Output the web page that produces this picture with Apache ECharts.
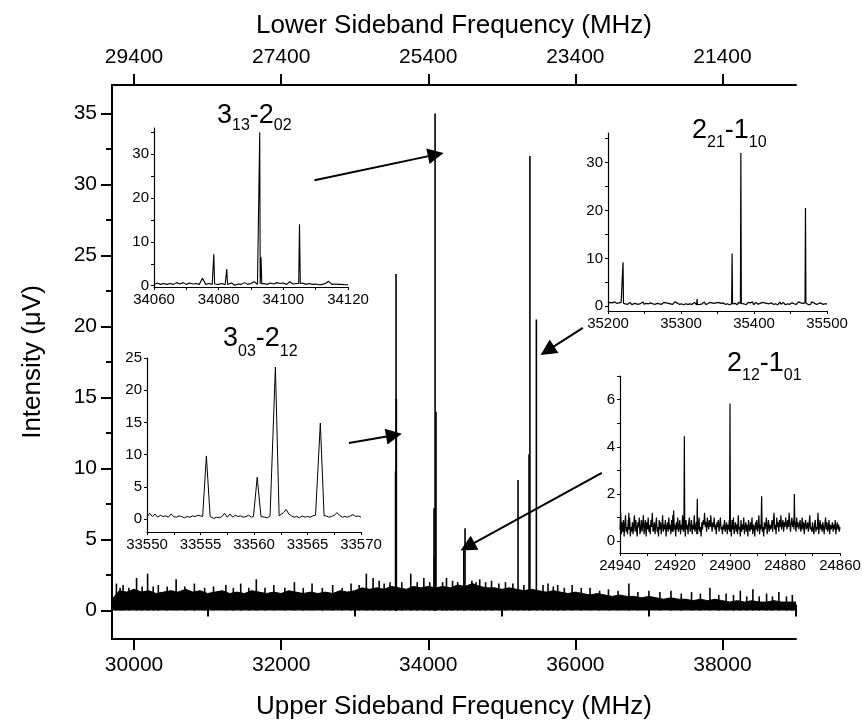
<!DOCTYPE html>
<html><head><meta charset="utf-8">
<script src="https://cdn.jsdelivr.net/npm/echarts@6/dist/echarts.min.js"></script>
<style>html,body{margin:0;padding:0;background:#fff}#c{width:862px;height:723px}</style>
</head><body><div id="c"></div>
<script>
// ===== Main spectrum =====
const mainXRange = [29700, 39000];
const mainYRange = [-2, 37];
const usbMajorTicks = [30000, 32000, 34000, 36000, 38000];
const usbMinorTicks = [31000, 33000, 35000, 37000, 39000];
const lsbTickLabels = ['29400', '27400', '25400', '23400', '21400'];
const yMajorTicks = [0, 5, 10, 15, 20, 25, 30, 35];
const yMinorTicks = [2.5, 7.5, 12.5, 17.5, 22.5, 27.5, 32.5];

const noiseFreq = [
  29700,29800,29900,30000,30100,30200,30300,30400,30500,30600,
  30700,30800,30900,31000,31100,31200,31300,31400,31500,31600,
  31700,31800,31900,32000,32100,32200,32300,32400,32500,32600,
  32700,32800,32900,33000,33100,33200,33300,33400,33500,33600,
  33700,33800,33900,34000,34100,34200,34300,34400,34500,34600,
  34700,34800,34900,35000,35100,35200,35300,35400,35500,35600,
  35700,35800,35900,36000,36100,36200,36300,36400,36500,36600,
  36700,36800,36900,37000,37100,37200,37300,37400,37500,37600,
  37700,37800,37900,38000,38100,38200,38300,38400,38500,38600,
  38700,38800,38900,39000];
const noiseTop = [
  0.8,1.4,1.3,1.5,1.3,1.4,1.2,1.3,1.4,1.3,
  1.5,1.3,1.4,1.2,1.3,1.4,1.2,1.3,1.2,1.4,
  1.3,1.2,1.3,1.2,1.4,1.3,1.2,1.3,1.2,1.3,
  1.2,1.4,1.3,1.4,1.6,1.5,1.6,1.5,1.7,1.6,
  1.5,1.7,1.6,1.7,1.6,1.7,1.6,1.8,1.7,1.9,
  1.7,1.6,1.6,1.5,1.6,1.5,1.4,1.5,1.4,1.3,
  1.4,1.3,1.2,1.3,1.2,1.1,1.2,1.1,1.0,1.1,
  1.0,1.0,0.9,1.0,0.9,0.8,0.9,0.8,0.8,0.7,
  0.8,0.7,0.8,0.7,0.6,0.7,0.6,0.7,0.6,0.6,
  0.7,0.6,0.6,0.6];
const spikeFreq = [29760,29810,29850,29930,30034,30110,30184,30260,30330,30450,30572,30690,30820,30960,31080,31248,31350,31450,
  31560,31662,31780,31900,32050,32180,32300,32420,32560,32700,32830,32950,33060,
  33158,33250,33332,33400,33480,33640,33762,33850,33940,34020,34195,34248,34330,34400,34593,34650,34700,34780,34860,
  34960,35050,35150,35300,35560,35628,35700,35760,35850,35956,36080,
  36200,36330,36450,36580,36728,36850,37000,37150,37300,37440,37580,37700,37830,37950,38050,38150,38243,38330,38414,38500,38600,38680,38767,38870,38950];
const spikeHeight = [1.9,1.6,1.8,1.6,2.3,1.7,2.6,1.7,1.8,1.7,2.2,1.7,1.9,1.6,1.7,1.8,1.6,1.9,
  1.6,2.2,1.6,1.8,1.6,2.0,1.6,1.9,1.6,1.8,1.6,1.9,1.8,
  2.6,2.3,2.1,1.9,2.0,2.0,2.6,2.0,2.3,2.0,2.0,2.3,2.1,2.0,2.1,2.0,2.2,2.0,2.1,
  1.9,2.0,1.9,1.8,1.8,1.9,1.7,1.8,1.6,1.8,1.6,
  1.6,1.4,1.5,1.4,1.9,1.3,1.4,1.3,1.4,1.2,1.3,1.2,1.6,1.1,1.2,1.1,1.4,1.0,1.5,1.0,1.2,1.0,1.3,1.0,1.1];
const lineFreq = [33555.5,33560.3,33562.0,33566.2,34078.5,34082.5,34092.7,34105.0,34483.4,34500.0,35220.6,35370.0,35382.0,35470.0];
const lineHeight = [9.8,6.5,23.7,14.9,7.2,3.8,35.0,14.0,4.5,5.8,9.2,11.0,32.0,20.5];

// arrows (data coordinates of the main plot): from -> to
const arrowFrom = [[32453, 30.3], [32921, 11.8], [36102, 19.9], [36360, 9.7]];
const arrowTo   = [[34102, 32.1], [33534, 12.35], [35619, 18.3], [34534, 4.5]];

// ===== Inset A: 3_13-2_02 =====
const insA_x = [34060, 34120], insA_y = [-0.3, 36];
const insA_xLabels = [34060, 34080, 34100, 34120], insA_xTicks = [34060,34070,34080,34090,34100,34110,34120];
const insA_yLabels = [0, 10, 20, 30], insA_yTicks = [0,5,10,15,20,25,30,35];
const insA_start = 34060, insA_step = 1;
const insA_base = [
  0.2,0.6,0.3,0.5,0.3,0.5,0.3,0.7,0.4,0.7,
  0.3,0.6,0.4,0.5,0.3,1.7,0.3,0.5,0.3,0.4,
  0.3,0.5,0.2,0.3,0.6,0.1,0.4,0.3,0.7,0.3,
  0.5,0.9,0.3,0.4,0.5,0.3,0.6,0.4,0.7,0.5,
  0.6,0.3,0.9,0.4,0.5,0.5,0.6,0.3,0.5,0.3,
  0.4,0.2,0.3,0.5,1.0,0.3,0.4,0.3,0.3,0.2,
  0.2];
const insA_peakFreq = [34078.5, 34082.5, 34092.7, 34093.1, 34105.0];
const insA_peakHeight = [7.2, 3.8, 35.0, 6.5, 14.0];

// ===== Inset B: 2_21-1_10 =====
const insB_x = [35200, 35500], insB_y = [-1, 36.2];
const insB_xLabels = [35200, 35300, 35400, 35500], insB_xTicks = [35200,35250,35300,35350,35400,35450,35500];
const insB_yLabels = [0, 10, 20, 30], insB_yTicks = [0,5,10,15,20,25,30,35];
const insB_start = 35200, insB_step = 1.5;
const insB_base = [
  0.6,0.3,0.8,0.5,0.7,0.4,0.9,0.5,0.6,0.3, 0.7,0.5,0.8,0.4,0.6,0.9,0.5,0.7,0.4,0.6,
  0.8,0.5,0.3,0.7,0.6,0.9,0.5,0.8,0.4,0.7, 0.6,0.5,0.9,0.4,0.7,0.6,0.8,0.5,0.3,0.7,
  0.9,0.5,0.6,0.4,0.8,0.6,0.7,0.5,0.9,0.4, 0.6,0.8,0.5,0.7,0.3,0.6,0.8,0.5,0.7,0.4,
  0.6,0.9,0.5,0.7,0.6,0.4,0.8,0.5,0.6,0.3, 0.7,0.5,0.8,0.4,0.6,0.5,0.7,0.4,0.6,0.8,
  0.5,0.3,0.6,0.7,0.4,0.8,0.5,0.6,0.9,0.4, 0.7,0.5,0.6,0.8,0.4,0.7,0.5,0.6,0.3,0.7,
  0.4,0.8,0.5,0.6,0.3,0.7,0.9,0.4,0.6,0.5, 0.8,0.3,0.7,0.5,0.9,0.4,0.6,0.7,0.3,0.8,
  0.5,0.6,0.4,0.9,0.5,0.7,0.3,0.6,0.8,0.4, 0.7,0.5,0.9,0.3,0.6,0.8,0.5,0.4,0.7,0.6,
  0.3,0.8,0.5,0.7,0.4,0.6,0.9,0.5,0.3,0.7, 0.6,0.4,0.8,0.5,0.7,0.3,0.6,0.9,0.4,0.5,
  0.8,0.6,0.3,0.7,0.5,0.9,0.4,0.6,0.7,0.3, 0.5,0.8,0.4,0.6,0.9,0.5,0.7,0.3,0.6,0.4,
  0.7,0.5,0.8,0.3,0.6,0.4,0.9,0.5,0.7,0.6, 0.4,0.8,0.5,0.3,0.7,0.6,0.4,0.8,0.5,0.6,
  0.5];
const insB_peakFreq = [35220.6, 35322.0, 35370.0, 35382.0, 35470.5];
const insB_peakHeight = [9.2, 1.5, 11.0, 32.0, 20.5];

// ===== Inset C: 3_03-2_12 =====
const insC_x = [33550, 33570], insC_y = [-2, 25];
const insC_xLabels = [33550, 33555, 33560, 33565, 33570], insC_xTicks = [33550,33552.5,33555,33557.5,33560,33562.5,33565,33567.5,33570];
const insC_yLabels = [0, 5, 10, 15, 20, 25], insC_yTicks = [0,5,10,15,20,25];
const insC_start = 33550, insC_step = 0.25;
const insC_base = [
  0.3,0.9,0.4,0.8, 0.3,0.6,0.4,0.5, 0.3,0.8,0.4,0.3, 0.5,0.4,0.2,0.4,
  0.3,0.5,0.4,0.6, 0.5,0.4,0.4,0.4, 0.3,0.1,0.3,0.2, 0.4,0.9,0.3,0.8,
  0.3,0.6,0.4,0.5, 0.3,0.4,0.6,0.3, 0.5,0.4,0.4,0.4, 0.3,0.2,0.5,0.6,
  0.5,0.5,0.7,1.0, 1.5,0.8,0.5,0.3, 0.4,0.2,0.5,0.3, 0.4,0.3,0.5,0.6,
  0.5,0.5,0.5,0.5, 0.3,0.4,0.6,1.0, 0.6,0.3,0.4,0.3, 0.5,0.7,0.4,0.5,
  0.3];
const insC_peakFreq = [33555.55, 33560.3, 33562.0, 33566.2];
const insC_peakHeight = [9.8, 6.5, 23.6, 14.9];

// ===== Inset D: 2_12-1_01 (lower sideband, reversed) =====
const insD_x = [24860, 24940], insD_y = [-0.5, 7];
const insD_xLabels = [24940, 24920, 24900, 24880, 24860], insD_xTicks = [24940,24930,24920,24910,24900,24890,24880,24870,24860];
const insD_yLabels = [0, 2, 4, 6], insD_yTicks = [0,1,2,3,4,5,6,7];
const insD_start = 24940, insD_step = -0.25;
const insD_base = [
  0.5,1.2,0.3,0.8,0.4,0.9,0.2,0.7,1.1,0.4, 0.6,0.3,0.9,0.5,1.0,0.2,0.6,0.4,0.8,0.3,
  0.7,1.1,0.4,0.9,0.5,0.2,0.8,0.6,1.0,0.3, 0.5,0.9,0.4,0.7,1.1,0.3,0.6,0.9,0.2,0.8,
  0.5,1.0,0.4,0.7,0.3,0.9,0.6,1.2,0.4,0.5, 0.8,0.3,0.7,1.0,0.4,0.6,0.2,0.9,0.5,0.8,
  0.3,0.6,1.1,0.4,0.7,0.5,0.9,0.2,0.6,0.8, 0.4,1.0,0.5,0.7,0.3,0.9,0.6,0.4,1.3,0.5,
  0.7,0.2,0.8,0.5,1.0,0.4,0.6,0.9,0.3,0.7, 0.5,1.1,0.4,0.8,0.6,0.2,0.9,0.5,0.7,0.3,
  0.8,1.0,0.4,0.6,0.9,0.3,0.7,0.5,1.1,0.4, 0.6,0.8,0.3,0.7,0.5,1.0,0.4,0.6,0.2,0.8,
  0.5,0.9,0.7,1.2,0.6,0.8,0.4,1.0,0.7,0.5, 0.9,0.6,1.1,0.7,0.4,0.8,0.6,1.0,0.5,0.7,
  0.3,0.8,0.6,0.9,0.4,0.7,1.0,0.5,0.6,0.3, 0.7,0.5,0.9,0.4,0.6,0.8,0.3,0.7,0.5,0.9,
  0.4,0.7,0.2,0.9,0.5,1.0,0.3,0.6,0.8,0.4, 0.7,0.3,1.1,0.5,0.6,0.2,0.9,0.4,0.7,0.5,
  1.0,0.3,0.6,0.8,0.4,0.7,0.2,0.9,0.6,0.4, 0.8,0.5,1.0,0.3,0.7,0.6,0.2,0.8,0.5,0.9,
  0.4,0.6,1.1,0.3,0.7,0.5,0.9,0.4,0.6,0.2, 0.8,0.5,0.7,1.0,0.3,0.6,0.9,0.4,0.7,0.5,
  0.6,0.9,0.4,0.8,1.2,0.5,0.7,0.3,1.0,0.6, 0.8,0.4,0.9,0.6,1.1,0.5,0.7,0.9,0.4,0.8,
  0.6,1.0,0.7,0.5,0.9,0.6,1.2,0.7,0.4,0.8, 1.0,0.6,0.8,0.5,0.9,0.7,0.4,1.0,0.6,0.8,
  0.5,0.7,0.9,0.4,0.6,1.0,0.5,0.8,0.3,0.7, 0.9,0.5,0.6,0.8,0.4,0.7,1.1,0.5,0.6,0.4,
  0.8,0.5,0.3,0.7,0.9,0.4,0.6,0.5,0.8,0.3, 0.6,0.9,0.5,0.7,0.4,0.8,0.6,0.3,0.7,1.0,
  0.5,0.8,0.4,0.6,0.9,0.3,0.7,0.5,0.6,0.8, 0.4,0.7,0.5,0.9,0.3,0.6,0.8,0.5,0.7,0.4,
  0.6];
const insD_peakFreq = [24936.8, 24920.8, 24916.6, 24911.9, 24900.0, 24888.5, 24876.6, 24868.0];
const insD_peakHeight = [1.2, 1.1, 4.45, 1.8, 5.83, 1.9, 2.0, 1.2];

// ===== helpers =====
const FONT = '"Liberation Sans", Arial, Helvetica, sans-serif';
function pairs(xs, ys) { return xs.map((x, i) => [x, ys[i]]); }
function buildTrace(start, step, base, peakF, peakH, hw) {
  const pts = [];
  base.forEach((v, i) => {
    const f = start + i * step;
    if (peakF.some(p => Math.abs(p - f) < hw)) return;
    pts.push([f, v]);
  });
  peakF.forEach((p, i) => {
    const k = Math.max(0, Math.min(base.length - 1, Math.round((p - start) / step)));
    pts.push([p - hw, base[k]], [p, peakH[i]], [p + hw, base[k]]);
  });
  pts.sort((a, b) => a[0] - b[0]);
  return pts;
}
const plain = v => String(v);
function insetX(grid, range, ticks, labels, inverse) {
  return {
    gridIndex: grid, type: 'value', position: 'bottom', min: range[0], max: range[1], inverse: !!inverse,
    axisLine: { show: true, onZero: false, lineStyle: { color: '#000', width: 1.2 } },
    axisTick: { show: true, inside: false, length: 3, customValues: ticks, lineStyle: { color: '#000', width: 1 } },
    axisLabel: { show: true, customValues: labels, formatter: plain, color: '#000', fontSize: 15, fontFamily: FONT, margin: 5 },
    splitLine: { show: false }
  };
}
function insetY(grid, range, ticks, labels) {
  return {
    gridIndex: grid, type: 'value', position: 'left', min: range[0], max: range[1],
    axisLine: { show: true, onZero: false, lineStyle: { color: '#000', width: 1.2 } },
    axisTick: { show: true, inside: false, length: 3, customValues: ticks, lineStyle: { color: '#000', width: 1 } },
    axisLabel: { show: true, customValues: labels, formatter: plain, color: '#000', fontSize: 15, fontFamily: FONT, margin: 5 },
    splitLine: { show: false }
  };
}
const measureCtx = document.createElement('canvas').getContext('2d');
function subLabel(parts, x, baseY, subY) {
  const els = [];
  let cx = x;
  parts.forEach(([t, isSub]) => {
    const size = isSub ? 16 : 27;
    measureCtx.font = size + 'px ' + FONT;
    const w = measureCtx.measureText(t).width;
    els.push({
      type: 'text', x: cx, y: (isSub ? subY : baseY) - 0.35 * size, z: 100,
      style: { text: t, fontSize: size, fontFamily: FONT, fill: '#000', align: 'left', verticalAlign: 'middle' }
    });
    cx += w;
  });
  return els;
}

const chart = echarts.init(document.getElementById('c'), null, { renderer: 'canvas' });
const mainAxisLine = { show: true, onZero: false, lineStyle: { color: '#000', width: 2 } };

const option = {
  animation: false,
  backgroundColor: '#fff',
  textStyle: { fontFamily: FONT, color: '#000' },
  grid: [
    { left: 112, top: 85, width: 684, height: 554, outerBoundsMode: 'none' },
    { left: 154, top: 128, width: 194, height: 159, outerBoundsMode: 'none' },
    { left: 608, top: 133, width: 219, height: 178, outerBoundsMode: 'none' },
    { left: 147, top: 358, width: 214, height: 174, outerBoundsMode: 'none' },
    { left: 620, top: 376, width: 220, height: 177, outerBoundsMode: 'none' }
  ],
  xAxis: [
    { gridIndex: 0, type: 'value', position: 'bottom', min: mainXRange[0], max: mainXRange[1],
      axisLine: mainAxisLine,
      axisTick: { show: true, inside: false, length: 11, customValues: usbMajorTicks, lineStyle: { color: '#000', width: 2 } },
      axisLabel: { customValues: usbMajorTicks, formatter: plain, color: '#000', fontSize: 21, fontFamily: FONT, margin: 16 },
      splitLine: { show: false },
      name: 'Upper Sideband Frequency (MHz)', nameLocation: 'middle', nameGap: 55,
      nameTextStyle: { fontSize: 26, fontFamily: FONT, color: '#000' } },
    { gridIndex: 0, type: 'value', position: 'bottom', min: mainXRange[0], max: mainXRange[1],
      axisLine: { show: false },
      axisTick: { show: true, inside: false, length: 6, customValues: usbMinorTicks, lineStyle: { color: '#000', width: 2 } },
      axisLabel: { show: false }, splitLine: { show: false } },
    { gridIndex: 0, type: 'value', position: 'top', min: mainXRange[0], max: mainXRange[1],
      axisLine: mainAxisLine,
      axisTick: { show: true, inside: false, length: 11, customValues: usbMajorTicks, lineStyle: { color: '#000', width: 2 } },
      axisLabel: { customValues: usbMajorTicks, color: '#000', fontSize: 21, fontFamily: FONT, margin: 17,
        formatter: v => lsbTickLabels[usbMajorTicks.indexOf(v)] },
      splitLine: { show: false },
      name: 'Lower Sideband Frequency (MHz)', nameLocation: 'middle', nameGap: 46,
      nameTextStyle: { fontSize: 26, fontFamily: FONT, color: '#000' } },
    { gridIndex: 0, type: 'value', position: 'top', min: mainXRange[0], max: mainXRange[1],
      axisLine: { show: false },
      axisTick: { show: true, inside: false, length: 6, customValues: usbMinorTicks, lineStyle: { color: '#000', width: 2 } },
      axisLabel: { show: false }, splitLine: { show: false } },
    insetX(1, insA_x, insA_xTicks, insA_xLabels),
    insetX(2, insB_x, insB_xTicks, insB_xLabels),
    insetX(3, insC_x, insC_xTicks, insC_xLabels),
    insetX(4, insD_x, insD_xTicks, insD_xLabels, true)
  ],
  yAxis: [
    { gridIndex: 0, type: 'value', position: 'left', min: mainYRange[0], max: mainYRange[1],
      axisLine: mainAxisLine,
      axisTick: { show: true, inside: false, length: 11, customValues: yMajorTicks, lineStyle: { color: '#000', width: 2 } },
      axisLabel: { customValues: yMajorTicks, formatter: plain, color: '#000', fontSize: 21, fontFamily: FONT, margin: 15 },
      splitLine: { show: false },
      name: 'Intensity (μV)', nameLocation: 'middle', nameGap: 66, nameRotate: 90,
      nameTextStyle: { fontSize: 26, fontFamily: FONT, color: '#000' } },
    { gridIndex: 0, type: 'value', position: 'left', min: mainYRange[0], max: mainYRange[1],
      axisLine: { show: false },
      axisTick: { show: true, inside: false, length: 6, customValues: yMinorTicks, lineStyle: { color: '#000', width: 2 } },
      axisLabel: { show: false }, splitLine: { show: false } },
    insetY(1, insA_y, insA_yTicks, insA_yLabels),
    insetY(2, insB_y, insB_yTicks, insB_yLabels),
    insetY(3, insC_y, insC_yTicks, insC_yLabels),
    insetY(4, insD_y, insD_yTicks, insD_yLabels)
  ],
  series: [
    { type: 'line', xAxisIndex: 0, yAxisIndex: 0, data: pairs(noiseFreq, noiseTop), symbol: 'none',
      lineStyle: { color: '#000', width: 1 }, areaStyle: { color: '#000', opacity: 1 }, z: 2 },
    { type: 'bar', xAxisIndex: 0, yAxisIndex: 0, barWidth: 1.6,
      data: pairs(spikeFreq, spikeHeight).concat(pairs(lineFreq, lineHeight)),
      itemStyle: { color: '#000' }, z: 3 },
    { type: 'lines', coordinateSystem: 'cartesian2d', xAxisIndex: 0, yAxisIndex: 0, z: 20,
      symbol: ['none', 'triangle'], symbolSize: [9, 16],
      lineStyle: { color: '#000', width: 2, opacity: 1, curveness: 0 },
      data: arrowFrom.map((a, i) => ({ coords: [a, arrowTo[i]] })) },
    { type: 'line', xAxisIndex: 4, yAxisIndex: 2, symbol: 'none', lineStyle: { color: '#000', width: 1.1 },
      data: buildTrace(insA_start, insA_step, insA_base, insA_peakFreq, insA_peakHeight, 0.25) },
    { type: 'line', xAxisIndex: 5, yAxisIndex: 3, symbol: 'none', lineStyle: { color: '#000', width: 1.2 },
      data: buildTrace(insB_start, insB_step, insB_base, insB_peakFreq, insB_peakHeight, 0.6) },
    { type: 'line', xAxisIndex: 6, yAxisIndex: 4, symbol: 'none', lineStyle: { color: '#000', width: 1 },
      data: buildTrace(insC_start, insC_step, insC_base, insC_peakFreq, insC_peakHeight, 0.35) },
    { type: 'line', xAxisIndex: 7, yAxisIndex: 5, symbol: 'none', lineStyle: { color: '#000', width: 1.2 },
      data: buildTrace(insD_start, insD_step, insD_base, insD_peakFreq, insD_peakHeight, 0.15) }
  ],
  graphic: [].concat(
    subLabel([['3', false], ['13', true], ['-2', false], ['02', true]], 217, 125, 131),
    subLabel([['2', false], ['21', true], ['-1', false], ['10', true]], 692, 140, 148),
    subLabel([['3', false], ['03', true], ['-2', false], ['12', true]], 223, 348, 357),
    subLabel([['2', false], ['12', true], ['-1', false], ['01', true]], 727, 373, 381)
  )
};
chart.setOption(option);
</script>
</body></html>
